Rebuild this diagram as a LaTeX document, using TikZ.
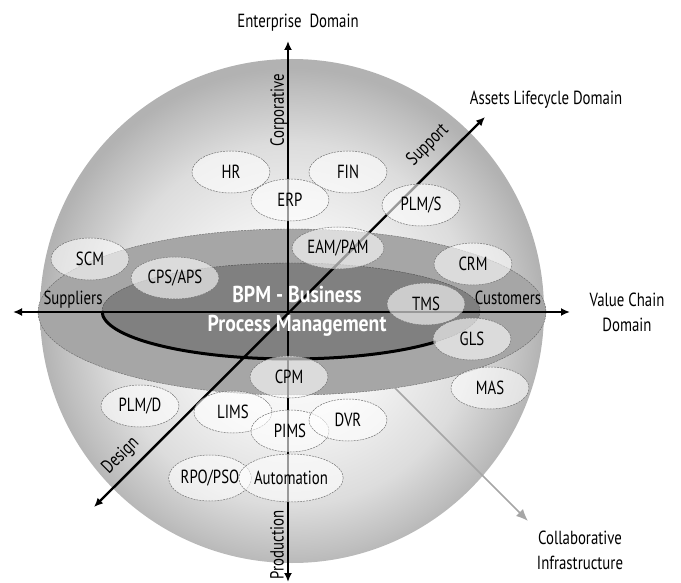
\documentclass[tikz,border=0pt]{standalone}
\usepackage{fontspec}
\setmainfont{PT Sans}[FakeStretch=0.78]
\newfontfamily\bpmfont{PT Sans}[FakeStretch=0.86]
\usetikzlibrary{arrows.meta,shapes.geometric,positioning}

% sphere look, lit from the front
\pgfdeclareradialshading{sphereshade}{\pgfqpoint{0bp}{-2bp}}{color(0bp)=(white); color(9bp)=(gray!8); color(18bp)=(gray!27); color(23bp)=(gray!50); color(25bp)=(gray!60); color(50bp)=(gray!60)}

\tikzset{
  appl/.style={ellipse, draw=black!55, dash pattern=on 2pt off 1pt, line width=0.5pt,
    fill=white, fill opacity=0.6, text opacity=1, minimum width=78pt, minimum height=42pt,
    inner sep=0pt, font=\fontsize{19}{19}\selectfont},
  axis/.style={line width=2.4pt, {Latex[length=9pt,width=8pt]}-{Latex[length=9pt,width=8pt]}},
  lbl/.style={font=\fontsize{19}{25}\selectfont, inner sep=0pt},
}

\begin{document}
\begin{tikzpicture}[x=1pt,y=-1pt]
\useasboundingbox (0,0) rectangle (681,583);

% Drawing sphere
\shade[shading=sphereshade] (292,311) circle [radius=252];

% Drawing outer ring
\draw[black!60, dash pattern=on 2pt off 1pt, fill=gray!70] (292,312) ellipse [x radius=254, y radius=83];

% Drawing inner ring and its front edge
\draw[black!70, dash pattern=on 2pt off 1pt, fill=black!50] (291,311) ellipse [x radius=189, y radius=48];
\draw[line width=3pt] (102,311) arc [start angle=180, end angle=40, x radius=189, y radius=48];

% Marking axes
\coordinate (ent) at (288,41);
\coordinate (prod) at (288,582);
\coordinate (supend) at (13,312);
\coordinate (valend) at (570,312);
\coordinate (astend) at (485,117);
\coordinate (desend) at (94,507);
\draw[axis] (prod) -- (ent);
\draw[axis] (supend) -- (valend);
\draw[axis] (desend) -- (astend);

% Marking BPM core
\node[white, font=\bpmfont\bfseries\fontsize{23}{29}\selectfont, align=center, inner sep=0pt] (bpm) at (297,311) {BPM - Business\\Process Management};

% Drawing applications
\node[appl] (hr) at (231,172) {HR};
\node[appl] (fin) at (348,172) {FIN};
\node[appl] (erp) at (290,200) {ERP};
\node[appl] (plms) at (421,205) {PLM/S};
\node[appl, minimum width=92pt] (eam) at (338,248) {EAM/PAM};
\node[appl] (scm) at (90,259) {SCM};
\node[appl, minimum width=88pt] (cps) at (175,278) {CPS/APS};
\node[appl] (crm) at (473,264) {CRM};
\node[appl] (tms) at (426,304) {TMS};
\node[appl] (gls) at (472,339) {GLS};
\node[appl] (mas) at (490,388) {MAS};
\node[appl] (cpm) at (289,377) {CPM};
\node[appl] (plmd) at (140,406) {PLM/D};
\node[appl] (lims) at (233,412) {LIMS};
\node[appl] (pims) at (290,431) {PIMS};
\node[appl] (dvr) at (348,420) {DVR};
\node[appl, minimum height=46pt] (rpo) at (210,478) {RPO/PSO};
\node[appl, minimum width=93pt, minimum height=48pt] (auto) at (291,478) {Automation};

% Marking domain labels
\node[lbl] (entl) at (298,23) {Enterprise\ \ Domain};
\node[lbl, rotate=90] (corp) at (279,110) {Corporative};
\node[lbl] (astl) at (546,100) {Assets Lifecycle Domain};
\node[lbl, rotate=45] (supp) at (428,145) {Support};
\node[lbl] (suppl) at (73,300) {Suppliers};
\node[lbl] (cust) at (508,298) {Customers};
\node[lbl, align=center] (valc) at (627,312) {Value Chain\\Domain};
\node[lbl, rotate=45] (desl) at (121,456) {Design};
\node[lbl, rotate=90] (prodl) at (277,545) {Production};
\node[lbl, align=center] (colab) at (580,550) {Collaborative\\Infrastructure};

% Drawing collaborative arrow
\coordinate (cstart) at (365,358);
\coordinate (ctip) at (528,521);
\draw[gray!70, line width=1.5pt, -{Latex[length=12pt,width=10pt]}] (cstart) -- (ctip);
\end{tikzpicture}
\end{document}
